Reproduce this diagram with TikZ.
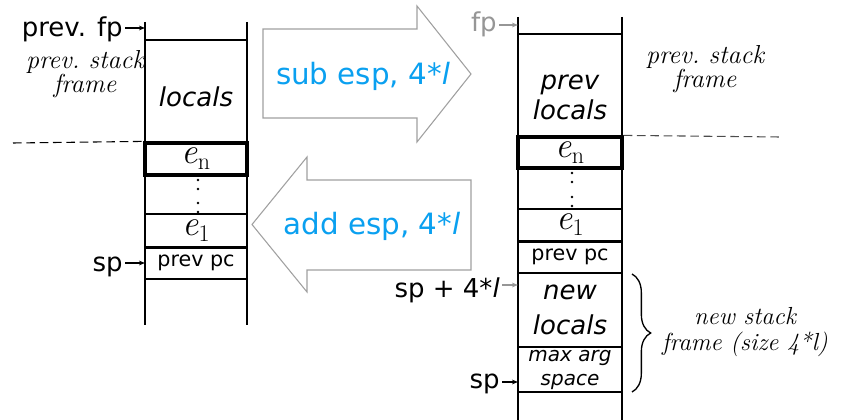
\documentclass[tikz,border=0pt]{standalone}
\usepackage{fontspec}
\setsansfont{DejaVu Sans}
\usetikzlibrary{decorations.pathreplacing,arrows.meta}
\definecolor{espblue}{RGB}{10,160,240}
\definecolor{ptrgray}{RGB}{150,150,150}
\definecolor{arrgray}{RGB}{160,160,160}
\newcommand\eSub[1]{{\rmfamily\itshape\fontsize{27}{27}\selectfont e}\raisebox{-4.5pt}{\rmfamily\fontsize{18}{18}\selectfont #1}}
\begin{document}
\begin{tikzpicture}[x=0.75pt,y=-0.75pt,
  stackline/.style={line width=1.2pt},
  cellL/.style={draw, line width=1.2pt, minimum width=76.5pt, inner sep=0pt, font=\sffamily\fontsize{15.5}{18}\selectfont},
  cellR/.style={cellL, minimum width=78pt},
  thickcell/.style={line width=2.4pt},
  thickline/.style={line width=2.2pt},
  ptrlbl/.style={font=\sffamily\fontsize{19.5}{22}\selectfont, inner sep=0pt, inner xsep=1.5pt},
  sansit/.style={font=\sffamily\itshape\fontsize{19.5}{23}\selectfont, align=center, inner sep=0pt},
  serifit/.style={font=\rmfamily\itshape\fontsize{19.5}{16}\selectfont, align=center, inner sep=0pt},
  ptr/.style={-{Stealth[length=4.5pt,width=3.5pt]}, line width=0.8pt},
  blockarrow/.style={draw=arrgray, line width=0.8pt, fill=white},
  esptext/.style={text=espblue, font=\sffamily\fontsize{22}{26}\selectfont, inner sep=0pt},
  dashln/.style={dash pattern=on 6.5pt off 3.5pt, line width=0.8pt}
]
\useasboundingbox (0,0) rectangle (846,420);

% block arrows
\draw[blockarrow] (263,29) -- (417,29) -- (417,6) -- (471,74) -- (417,142) -- (417,118) -- (263,118) -- cycle;
\node[esptext] (sub) at (363,76) {sub esp, 4*\textit{l}};
\draw[blockarrow] (471,180) -- (307,180) -- (307,157) -- (252,224.5) -- (307,292) -- (307,270) -- (471,270) -- cycle;
\node[esptext] (add) at (372,226) {add esp, 4*\textit{l}};

% left stack
\draw[stackline] (145,22) -- (145,325);
\draw[stackline] (247,22) -- (247,325);
\draw[stackline] (145,40) -- (247,40);
\node[cellL, minimum height=24pt] (pcL) at (196,263) {prev pc};
\node[cellL, minimum height=24.75pt] (e1L) at (196,230.5) {\eSub{1}};
\draw[thickline] (e1L.south west) -- (e1L.south east);
\node[cellL, thickcell, minimum height=24pt] (enL) at (196,159) {\eSub{n}};
\foreach \yy in {180,189,203,212} \fill (198,\yy) circle (1.1pt);
\node[sansit] (locL) at (196,97) {locals};
\draw[dashln] (13,143) -- (enL.north west);
\node[serifit] (psL) at (85,74) {prev.\ stack\\frame};

\node[ptrlbl, anchor=base east] (pfp) at (125,37) {prev. fp};
\coordinate (pfpT) at (145,28);
\draw[ptr] (pfp.east |- pfpT) -- (pfpT);
\node[ptrlbl, anchor=base east] (spL) at (125,272) {sp};
\coordinate (spLT) at (145,263);
\draw[ptr] (spL.east |- spLT) -- (spLT);

% right stack
\draw[stackline] (518,17) -- (518,420);
\draw[stackline] (622,17) -- (622,420);
\draw[stackline] (518,34) -- (622,34);
\node[cellR, minimum height=33.75pt, font=\sffamily\itshape\fontsize{15}{18}\selectfont, align=center] (maxR) at (570,369.5) {max arg\\space};
\node[cellR, minimum height=55.5pt, font=\sffamily\itshape\fontsize{19.5}{26}\selectfont, align=center] (newR) at (570,310) {new\\locals};
\node[cellR, minimum height=24pt] (pcR) at (570,257) {prev pc};
\node[cellR, minimum height=24pt] (e1R) at (570,225) {\eSub{1}};
\draw[thickline] (e1R.south west) -- (e1R.south east);
\node[cellR, thickcell, minimum height=23.25pt] (enR) at (570,152.5) {\eSub{n}};
\foreach \yy in {173,182,197,206} \fill (572,\yy) circle (1.1pt);
\node[sansit] (prR) at (570,97.5) {prev\\locals};
\draw[dashln, draw=black!70] (enR.north east) -- (780,137);
\node[serifit] (psR) at (705,69) {prev.\ stack\\frame};

\node[ptrlbl, text=ptrgray, anchor=base east] (fpR) at (499,32) {fp};
\coordinate (fpRT) at (518,25);
\draw[ptr, draw=ptrgray, fill=ptrgray] (fpR.east |- fpRT) -- (fpRT);
\node[ptrlbl, anchor=base east] (sp4) at (502,298) {sp + 4*\textit{l}};
\coordinate (sp4T) at (518,285);
\draw[ptr, draw=ptrgray, fill=ptrgray] (sp4.east |- sp4T) -- (sp4T);
\node[ptrlbl, anchor=base east] (spR) at (502,388) {sp};
\coordinate (spRT) at (518,382);
\draw[ptr] (spR.east |- spRT) -- (spRT);

% brace
\coordinate (brT) at (632,274);
\coordinate (brB) at (632,392);
\draw[line width=1pt, decorate, decoration={brace, amplitude=14pt}] (brT) -- (brB);
\node[serifit, font=\rmfamily\itshape\fontsize{18.5}{19.5}\selectfont] (nsf) at (745,332) {new stack\\frame (size 4*l)};
\end{tikzpicture}
\end{document}
